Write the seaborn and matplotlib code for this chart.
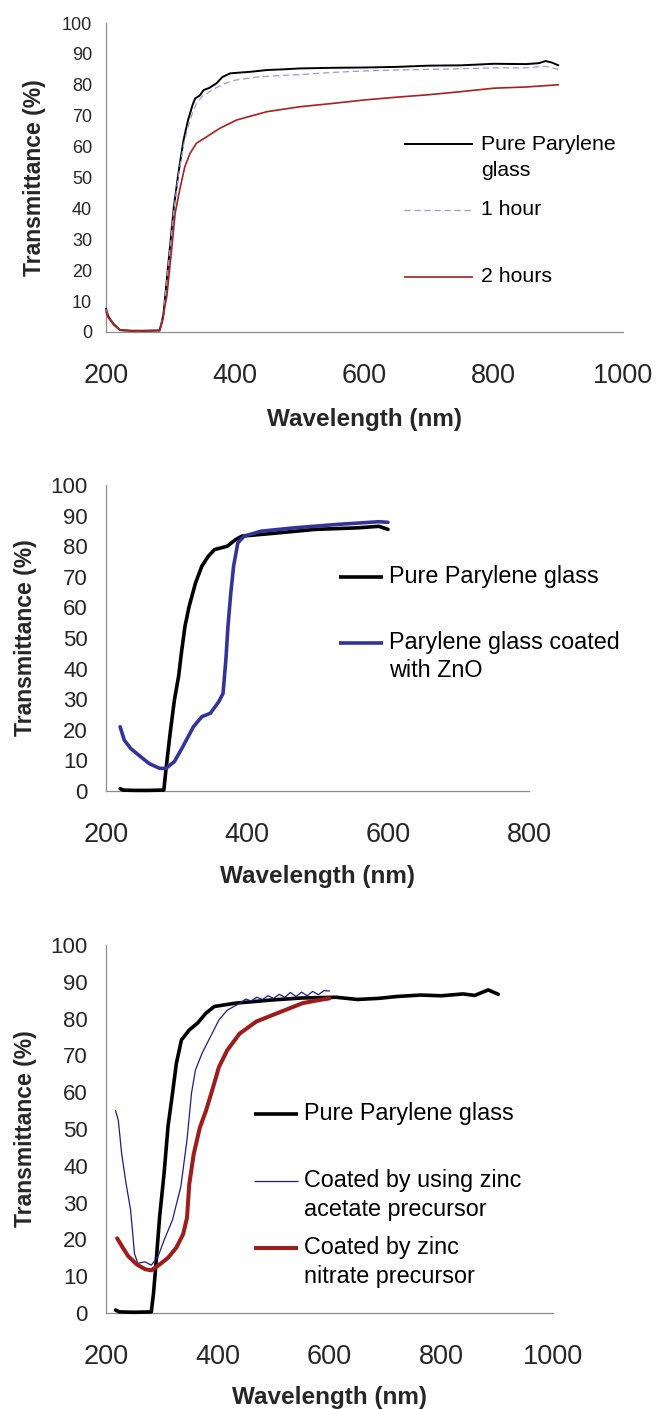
import matplotlib
matplotlib.use("Agg")
import matplotlib.pyplot as plt
import seaborn as sns

# ---------------- panel 1: exposure time ----------------
p1_wl_pure = [200, 204, 212, 222, 240, 260, 283, 286, 289, 294, 299, 305, 312, 320, 327, 334, 338,
              345, 351, 360, 371, 380, 392, 410, 423, 450, 474, 500, 550, 600, 650, 700, 750, 800,
              850, 870, 880, 890, 900]
p1_t_pure = [7.5, 4.9, 2.5, 0.6, 0.4, 0.4, 0.5, 3.0, 6.0, 16.8, 27.6, 40.5, 51.4, 62.1, 68.6, 73.5, 75.6,
             76.5, 78.3, 79.0, 80.5, 82.5, 83.7, 84.0, 84.2, 84.8, 85.0, 85.3, 85.5, 85.6, 85.8, 86.2, 86.3, 86.8,
             86.7, 87.0, 87.7, 87.2, 86.3]

p1_wl_1h = [200, 204, 212, 222, 240, 260, 283, 286, 289, 294, 299, 305, 312, 320, 327, 334, 340, 350,
            356, 370, 385, 400, 433, 470, 500, 550, 600, 650, 700, 750, 800, 850, 880, 900]
p1_t_1h = [7.3, 4.8, 2.4, 0.6, 0.4, 0.4, 0.5, 3.0, 6.0, 16.5, 27.0, 39.5, 50.5, 60.5, 66.5, 71.0, 74.0, 76.5,
           77.2, 79.0, 80.5, 81.5, 82.5, 83.0, 83.3, 84.0, 84.5, 84.8, 85.0, 85.2, 85.5, 85.5, 86.0, 85.0]

p1_wl_2h = [200, 204, 212, 222, 240, 260, 283, 288, 291, 294, 302, 307, 314, 322, 330, 340, 356, 376,
            402, 449, 500, 552, 600, 650, 700, 750, 800, 850, 900]
p1_t_2h = [6.5, 4.5, 2.3, 0.6, 0.4, 0.4, 0.5, 4.0, 8.2, 11.4, 27.6, 38.4, 46.0, 53.5, 57.8, 61.1, 63.2, 65.9,
           68.6, 71.3, 72.9, 74.0, 75.1, 76.0, 76.8, 77.8, 78.9, 79.3, 80.0]

p1_labels = [["Pure Parylene", "glass"], ["1 hour"], ["2 hours"]]

# ---------------- panel 2: ZnO coating ----------------
p2_wl_pure = [220, 224, 240, 260, 282, 285, 291, 297, 303, 307, 312, 318, 327, 336, 345, 354, 372,
              384, 393, 437, 497, 557, 587, 600]
p2_t_pure = [0.8, 0.3, 0.2, 0.2, 0.3, 6.9, 18.9, 29.7, 37.5, 45.2, 53.8, 60.4, 68.0, 73.5, 76.7, 78.9, 80.0,
             82.2, 83.3, 84.2, 85.5, 86.0, 86.5, 85.5]

p2_wl_zno = [220, 226, 235, 246, 261, 276, 285, 297, 309, 324, 336, 348, 360, 366, 370, 373, 377, 381,
             387, 396, 420, 467, 527, 587, 600]
p2_t_zno = [21.0, 16.6, 13.9, 11.8, 9.0, 7.4, 7.4, 9.6, 14.5, 21.0, 24.3, 25.4, 29.2, 31.9, 42.8, 53.8, 64.7,
            73.5, 81.1, 83.3, 84.9, 86.0, 87.1, 88.0, 87.8]

p2_labels = [["Pure Parylene glass"], ["Parylene glass coated", "with ZnO"]]

# ---------------- panel 3: precursor ----------------
p3_wl_pure = [217, 224, 250, 281, 285, 290, 296, 304, 311, 319, 326, 335, 349, 364, 379, 394, 432,
              500, 550, 612, 650, 688, 720, 763, 800, 839, 860, 884, 902]
p3_t_pure = [0.8, 0.3, 0.2, 0.3, 5.3, 14.4, 26.2, 38.0, 50.7, 59.7, 67.9, 74.2, 76.9, 78.8, 81.5, 83.3, 84.2,
             85.1, 85.6, 85.8, 85.2, 85.5, 86.0, 86.4, 86.2, 86.7, 86.3, 87.8, 86.6]

p3_wl_acet = [217, 222, 228, 236, 244, 251, 257, 270, 281, 293, 304, 319, 334, 345, 353, 360, 372,
              387, 402, 417, 440, 450, 460, 470, 480, 490, 500, 510, 520, 530, 540, 550, 560,
              570, 580, 590, 600]
p3_t_acet = [55.0, 52.4, 43.3, 35.1, 28.0, 16.1, 13.5, 13.9, 13.0, 15.3, 19.8, 25.3, 34.4, 47.1, 59.7, 66.0, 70.6,
             75.1, 79.6, 82.3, 84.2, 85.3, 84.8, 85.8, 85.2, 86.2, 85.5, 86.6, 85.8, 87.1, 86.0, 87.2, 86.2,
             87.4, 86.5, 87.6, 87.5]

p3_wl_nitr = [220, 229, 240, 255, 270, 281, 296, 311, 326, 338, 345, 349, 357, 368, 379, 390, 402,
              417, 439, 469, 507, 552, 580, 600]
p3_t_nitr = [20.3, 18.0, 15.4, 13.2, 11.9, 11.6, 13.2, 15.0, 17.8, 21.4, 25.9, 35.0, 43.2, 50.4, 55.0, 60.5,
             66.8, 71.4, 75.9, 79.2, 81.5, 84.2, 85.0, 85.5]

p3_labels = [["Pure Parylene glass"], ["Coated by using zinc", "acetate precursor"],
             ["Coated by zinc", "nitrate precursor"]]

# ---------------- drawing ----------------
sns.set_style("white")
plt.rcParams["font.family"] = ["Liberation Sans", "DejaVu Sans"]

GRAY = "#8c8c8c"
fig = plt.figure(figsize=(6.58, 14.09), dpi=100)
W, H = 658, 1409


def make_ax(left, right, top, bottom):
    return fig.add_axes([left / W, 1 - bottom / H, (right - left) / W, (bottom - top) / H])


def style(ax, xmax, ysize, ypad, ylab_x, xlab_y):
    ax.set_xlim(200, xmax)
    ax.set_ylim(0, 100)
    ax.set_xticks(list(range(200, xmax + 1, 200)))
    ax.set_yticks(list(range(0, 101, 10)))
    for s in ["top", "right"]:
        ax.spines[s].set_visible(False)
    for s in ["left", "bottom"]:
        ax.spines[s].set_color(GRAY)
        ax.spines[s].set_linewidth(0.9)
    ax.tick_params(axis="x", direction="out", length=6, width=0.9, color=GRAY,
                   labelsize=19.5, pad=16.5)
    ax.tick_params(axis="y", direction="out", length=3.6, width=0.9, color=GRAY,
                   labelsize=ysize, pad=ypad)
    ax.set_xlabel("Wavelength (nm)", fontsize=17.5, fontweight="bold", va="center")
    ax.xaxis.set_label_coords(0.5, xlab_y)
    ax.set_ylabel("Transmittance (%)", fontsize=16.5, fontweight="bold", va="center")
    ax.yaxis.set_label_coords(ylab_x, 0.5)


def legend(ax, entries, x0, x1, xt, ys, dy, size):
    # entries: (label lines, color, lw, ls); ys: y of first line of each entry (axes fraction)
    for (lines, color, lw, ls), y in zip(entries, ys):
        ax.plot([x0, x1], [y, y], transform=ax.transAxes, color=color, lw=lw, ls=ls,
                clip_on=False, solid_capstyle="butt")
        for i, t in enumerate(lines):
            ax.text(xt, y - i * dy, t, transform=ax.transAxes, fontsize=size,
                    va="center", ha="left", color="black")


def curve(ax, x, y, color, lw, ls="-"):
    sns.lineplot(x=x, y=y, ax=ax, color=color, linewidth=lw, linestyle=ls,
                 estimator=None, sort=False, zorder=3, clip_on=False)


# panel 1
ax1 = make_ax(106, 623, 23, 332)
c1 = ["black", "#9a9ad6", "#a8201f"]
curve(ax1, p1_wl_pure, p1_t_pure, c1[0], 1.4)
curve(ax1, p1_wl_1h, p1_t_1h, c1[1], 0.9, (0, (5, 3)))
curve(ax1, p1_wl_2h, p1_t_2h, c1[2], 1.2)
style(ax1, 1000, 13, 6.5, -0.139, -0.283)
legend(ax1, [(p1_labels[0], c1[0], 1.4, "-"), (p1_labels[1], c1[1], 0.9, (0, (5, 3))),
             (p1_labels[2], c1[2], 1.2, "-")],
       0.576, 0.710, 0.725, [0.608, 0.395, 0.178], 0.084, 15.3)

# panel 2
ax2 = make_ax(106, 529, 485, 791)
c2 = ["black", "#33349a"]
curve(ax2, p2_wl_pure, p2_t_pure, c2[0], 2.6)
curve(ax2, p2_wl_zno, p2_t_zno, c2[1], 2.6)
style(ax2, 800, 16, 9.5, -0.191, -0.279)
legend(ax2, [(p2_labels[0], c2[0], 2.6, "-"), (p2_labels[1], c2[1], 2.6, "-")],
       0.550, 0.656, 0.669, [0.700, 0.484], 0.091, 16.8)

# panel 3
ax3 = make_ax(106, 553, 945, 1313)
c3 = ["black", "#1d1d85", "#9e1c1c"]
curve(ax3, p3_wl_pure, p3_t_pure, c3[0], 2.6)
curve(ax3, p3_wl_acet, p3_t_acet, c3[1], 0.9)
curve(ax3, p3_wl_nitr, p3_t_nitr, c3[2], 2.9)
style(ax3, 1000, 16, 9.5, -0.181, -0.229)
legend(ax3, [(p3_labels[0], c3[0], 2.6, "-"), (p3_labels[1], c3[1], 0.9, "-"),
             (p3_labels[2], c3[2], 2.9, "-")],
       0.330, 0.429, 0.442, [0.541, 0.359, 0.177], 0.077, 16.8)

fig.savefig("out.png", dpi=100)
